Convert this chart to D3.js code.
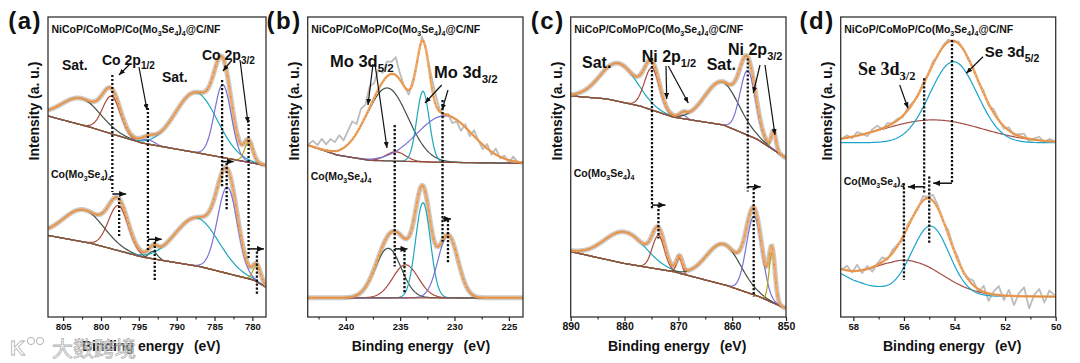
<!DOCTYPE html>
<html>
<head>
<meta charset="utf-8">
<script src="https://cdn.jsdelivr.net/npm/d3@7"></script>
<style>
  body { margin: 0; background: #fff; }
  svg text { font-family: "Liberation Sans", Arial, Helvetica, sans-serif; font-weight: bold; }
</style>
</head>
<body>
<svg id="chart" width="1080" height="363"></svg>
<script>
// ---------- values ----------
// binding energy range of each panel (eV, left -> right)
var aDomain = [807, 778.2];
var bDomain = [243.5, 223.7];
var cDomain = [890, 850];
var dDomain = [58.5, 50];

var aTicks = [805, 800, 795, 790, 785, 780];
var bTicks = [240, 235, 230, 225];
var cTicks = [890, 880, 870, 860, 850];
var dTicks = [58, 56, 54, 52, 50];
var aMinor = [802.5, 797.5, 792.5, 787.5, 782.5];
var bMinor = [242.5, 237.5, 232.5, 227.5];
var cMinor = [885, 875, 865, 855];
var dMinor = [57, 55, 53, 51];

// background [eV, intensity] and fitted peaks [centre eV, height, FWHM]
// intensity in a.u.: 0 = bottom of frame, 100 = top of frame
var aTopBg = [[807, 67], [801.5, 63.3], [794.6, 58], [787.2, 54.7], [778.2, 50.5]];
var aTopPeaks = [[802.6, 8.8, 6.0], [798.6, 12.5, 2.8], [793.8, 1.5, 2.0], [787.4, 20, 6.5], [783.9, 24.3, 2.6], [780.5, 6.5, 1.3]];
var aBotBg = [[807, 27.2], [801.4, 24.6], [794.4, 19.9], [786.9, 16.8], [779.8, 12.3], [778.2, 9.9]];
var aBotPeaks = [[802.3, 10.7, 6.3], [797.7, 15, 3.1], [793.1, 2.5, 1.3], [787.3, 16, 6.8], [783.3, 28.8, 3.1], [779.4, 5.2, 1.2]];

var bTopBg = [[243.5, 57.3], [240.8, 54], [237.8, 52.2], [231.6, 51.6], [223.7, 51.2]];
var bTopPeaks = [[236.2, 24.3, 4.5], [235.4, 3.1, 2.1], [232.9, 23.5, 1.35], [230.9, 15.5, 6.0]];
var bBotBg = [[243.5, 6.4], [223.7, 6.4]];
var bBotPeaks = [[236.1, 16.5, 2.8], [234.5, 11, 2.76], [232.9, 31.7, 1.6], [230.6, 20.9, 2.15]];

var cTopBg = [[890, 73.7], [883.3, 72.7], [877.1, 70.3], [870.9, 66.6], [861.6, 64], [855.4, 59.3], [850, 53]];
var cTopPeaks = [[881.1, 12.7, 8], [874.9, 14, 3.3], [869.1, 1.2, 1.5], [861.9, 14.3, 7.5], [857.1, 21.5, 3.4], [852.3, 6.1, 1.0]];
var cBotBg = [[890, 21.8], [880.2, 17.9], [870.9, 15.1], [861, 10.5], [855, 6.8], [851, 3.6], [850, 2.9]];
var cBotPeaks = [[879.9, 10.5, 9], [873.7, 11.2, 2.7], [869.8, 5.1, 1.25], [861.6, 13.5, 7.5], [855.9, 26.3, 3.4], [852.6, 16.5, 1.3]];

var dTopBg = [[58.5, 58.1], [50, 58.1]];
var dTopPeaks = [[54.85, 7.6, 4.6], [54.04, 27, 2.2]];
var dBotBg = [[58.5, 14.5], [58, 12.3], [57.4, 10.5], [56.5, 8.6], [55.5, 7.5], [54, 7], [50, 6.8]];
var dBotPeaks = [[55.8, 11, 3.2], [54.95, 23, 1.75]];

// raw data minus fit, where the noisy grey trace shows (one value per grid step)
var bTopResid = [0.5, 2, 1, 3.5, 2, 4, 3, 5, 2.5, 4.5,
  6, 3, 5.5, 4, 7, 5, 6.5, 3, 5, 4,
  6, 2, 0, -1.5, 1, -0.5, 1.5, 0, 2.5, 3.5,
  1, -1, 0.5, -2, -0.5, -2.5, 1, -1.5, 2, 0,
  -1.5, 1.5, -1, 2, -0.5, 1, -1, 1.5, 0, -0.5];
var dTopResid = [0, 0.8, -0.5, 1.2, 0.3, -1, 0.8, 1.5, -0.3, 1, 0.2,
  0.5, -0.5, 1, 0.3, -0.5, 0.8, 0.2, 1, -0.3, 0.5, 0.8, -0.5, 0.6, 0.2, -0.4, 0.6, -0.2,
  0.8, -0.6, 1.2, 0.2, -0.8, 1, -0.5, 0.6, 1.3, -0.9, 0.4, 1.2, -0.6, 0.8, 0.2];
var dBotResid = [0, 1.5, -0.5, 2, -1, 1, -1.5, 0.5, 1.5, -0.5, 1,
  0.5, -1, 1, 0, -0.5, 1.5, 0.5, 2, 1, -0.5, 1.5, 0.5, 1, -0.5, 0.5, 1.5, -1,
  2, -2.5, 1, 3, -1.5, 2, -3, 1, 3, -4, 0.5, 2.5, -2, 2, 0.5];

// peak positions marked with dotted lines (upper sample -> lower sample)
var aMarkTop = [798.5, 793.8, 784.0, 780.5];
var aMarkBot = [797.6, 792.9, 783.4, 779.4];
var bMarkTop = [235.5, 231.1];
var bMarkBot = [234.6, 230.6];
var cMarkTop = [874.9, 857.1];
var cMarkBot = [873.7, 856.0];
var dMarkTop = [54.1, 55.2];
var dMarkBot = [55.0, 56.0];

// ---------- drawing ----------
var svg = d3.select("#chart");
var y = d3.scaleLinear().domain([0, 100]).range([317, 17]);
var col = {dark: "#3e5141", red: "#aa473b", teal: "#1ea6bb", purple: "#7b70d4",
  olive: "#aaa41a", bg: "#8d4e3f", dteal: "#1aa3cc", dbrown: "#a54e47"};
var SANS = '"Liberation Sans", Arial, sans-serif';
var SERIF = '"Liberation Serif", "Times New Roman", serif';

var defs = svg.append("defs");
function marker(id, w, h) {
  defs.append("marker").attr("id", id).attr("markerUnits", "userSpaceOnUse")
    .attr("markerWidth", w).attr("markerHeight", h)
    .attr("refX", w).attr("refY", h / 2).attr("orient", "auto")
    .append("path").attr("d", "M0,0L" + w + "," + (h / 2) + "L0," + h + "Z").attr("fill", "#111");
}
marker("head", 7, 6);
marker("headS", 6, 5);

function gauss(v, p) {
  return p[1] * Math.exp(-4 * Math.LN2 * (v - p[0]) * (v - p[0]) / (p[2] * p[2]));
}

var panels = [
  {id: "(a)", left: 48, right: 266, domain: aDomain, ticks: aTicks, minor: aMinor, tickFs: 9.5,
   top: {bg: aTopBg, peaks: aTopPeaks, colors: ["dark", "red", "purple", "teal", "purple", "olive"], showBg: true},
   bot: {bg: aBotBg, peaks: aBotPeaks, colors: ["dark", "red", "dark", "teal", "purple", "olive"], showBg: true},
   markTop: aMarkTop, markBot: aMarkBot, tipOff: 7,
   shift: [[80.7, 41.7, 41, 39.7, 26.3], [69.7, 21.8, 25.9, 25.1, 11.8], [79, 43, 51.8, 51.3, 35.7], [65.7, 19.7, 22.7, 21.8, 7.3]],
   lowLabelY: 178, xlabX: 82,
   labels: [
     {t: "Sat.", x: 62, y: 70, fs: 14},
     {t: "Co 2p", sub: "1/2", x: 102, y: 65, fs: 14, sfs: 10},
     {t: "Sat.", x: 162, y: 81.5, fs: 14},
     {t: "Co 2p", sub: "3/2", x: 202, y: 60, fs: 14, sfs: 10}],
   arrows: [[130, 64, 119, 75], [139, 67, 147, 110], [232, 60, 223, 71], [240, 60, 248, 123]]},
  {id: "(b)", left: 307.7, right: 523, domain: bDomain, ticks: bTicks, minor: bMinor, tickFs: 9.5,
   top: {bg: bTopBg, peaks: bTopPeaks, colors: ["dark", "red", "teal", "purple"], showBg: true,
         resid: bTopResid, rawStart: 243.4, rawStep: 0.4},
   bot: {bg: bBotBg, peaks: bBotPeaks, colors: ["dark", "red", "teal", "purple"], showBg: true},
   markTop: bMarkTop, markBot: bMarkBot, tipOff: 3,
   shift: [[64, 16.8, 22.7, 22.3, 7.9], [72.3, 25.1, 32.7, 32.3, 17.9]],
   lowLabelY: 180, xlabX: 351.7,
   labels: [
     {t: "Mo 3d", sub: "5/2", x: 330, y: 67, fs: 16.5, sfs: 11.5},
     {t: "Mo 3d", sub: "3/2", x: 434, y: 78, fs: 16.5, sfs: 11.5}],
   arrows: [[373, 64, 368, 105], [375, 64, 387, 148], [441.7, 85, 425, 103], [448, 90, 442, 110]]},
  {id: "(c)", left: 570.7, right: 786, domain: cDomain, ticks: cTicks, minor: cMinor, tickFs: 10.5,
   top: {bg: cTopBg, peaks: cTopPeaks, colors: ["teal", "red", "purple", "dark", "purple", "olive"], showBg: true},
   bot: {bg: cBotBg, peaks: cBotPeaks, colors: ["teal", "red", "red", "dark", "purple", "olive"], showBg: true},
   markTop: cMarkTop, markBot: cMarkBot, tipOff: 7,
   shift: [[86.3, 36.2, 37.3, 37.3, 26.2], [86.2, 41.8, 43.4, 43, 6.8]],
   lowLabelY: 177, xlabX: 608,
   labels: [
     {t: "Sat.", x: 582, y: 68, fs: 16},
     {t: "Ni 2p", sub: "1/2", x: 641.7, y: 62, fs: 16, sfs: 11},
     {t: "Sat.", x: 706.7, y: 70, fs: 16},
     {t: "Ni 2p", sub: "3/2", x: 728, y: 55, fs: 16, sfs: 11}],
   arrows: [[666, 66, 666.7, 99], [668.3, 66, 688.3, 103], [760, 65, 753.3, 93], [765, 65, 775, 135]]},
  {id: "(d)", left: 840.7, right: 1055.7, domain: dDomain, ticks: dTicks, minor: dMinor, tickFs: 9.5,
   top: {bg: dTopBg, peaks: dTopPeaks, colors: ["dbrown", "dteal"], showBg: false,
         resid: dTopResid, rawStart: 58.45, rawStep: 0.2},
   bot: {bg: dBotBg, peaks: dBotPeaks, colors: ["dbrown", "dteal"], showBg: false,
         resid: dBotResid, rawStart: 58.45, rawStep: 0.2},
   markTop: dMarkTop, markBot: dMarkBot, tipOff: 4,
   shift: [[92.3, 44.6, 44.6, 46.8, 24.6], [79.6, 41.2, 43.4, 44.6, 12.3]],
   lowLabelY: 185, xlabX: 883,
   labels: [
     {t: "Se 3d", sub: "3/2", x: 858, y: 75, fs: 18, sfs: 12.5, serif: true},
     {t: "Se 3d", sub: "5/2", x: 984.7, y: 57, fs: 15, sfs: 10.5}],
   arrows: [[899.7, 85, 908, 108.3], [983, 56.7, 966.3, 73.3]]}
];

// text with subscripts, parts = [[string, isSub], ...]
function richText(g, parts, x, yb, fs, sfs, family) {
  var t = g.append("text").attr("x", x).attr("y", yb).attr("font-size", fs)
    .style("font-family", family || SANS).attr("fill", "#111");
  var shift = fs * 0.3, down = false;
  parts.forEach(function(p) {
    var s = t.append("tspan").text(p[0]);
    if (p[1] && !down) { s.attr("dy", shift).attr("font-size", sfs); down = true; }
    else if (p[1]) { s.attr("font-size", sfs); }
    else if (down) { s.attr("dy", -shift); down = false; }
  });
  return t;
}

function drawSpectrum(g, x, spec) {
  var bg = d3.scaleLinear().domain(spec.bg.map(function(d) { return d[0]; }))
    .range(spec.bg.map(function(d) { return d[1]; }));
  var dom = x.domain(), n = 260;
  var xs = d3.range(n + 1).map(function(i) { return dom[0] + (dom[1] - dom[0]) * i / n; });
  function fitAt(v) { return bg(v) + d3.sum(spec.peaks, function(p) { return gauss(v, p); }); }
  var line = d3.line().x(function(d) { return x(d[0]); }).y(function(d) { return y(d[1]); });
  var fit = xs.map(function(v) { return [v, fitAt(v)]; });

  // raw data (grey)
  if (spec.resid) {
    var raw = spec.resid.map(function(r, i) {
      var v = spec.rawStart - spec.rawStep * i;
      return [v, fitAt(v) + r];
    });
    g.append("path").attr("d", line(raw)).attr("fill", "none")
      .attr("stroke", "#bcbcbc").attr("stroke-width", 1.8).attr("stroke-linejoin", "round");
  } else {
    g.append("path").attr("d", line(fit)).attr("fill", "none")
      .attr("stroke", "#cbcbcb").attr("stroke-width", 5);
  }
  spec.peaks.forEach(function(p, i) {
    g.append("path").attr("d", line(xs.map(function(v) { return [v, bg(v) + gauss(v, p)]; })))
      .attr("fill", "none").attr("stroke", col[spec.colors[i]]).attr("stroke-width", 1.2);
  });
  // background drawn over the flat parts of the components
  if (spec.showBg) {
    g.append("path").attr("d", line(xs.map(function(v) { return [v, bg(v)]; })))
      .attr("fill", "none").attr("stroke", col.bg).attr("stroke-width", 1.3);
  }
  // fit envelope, orange line with dots
  g.append("path").attr("d", line(fit)).attr("fill", "none")
    .attr("stroke", "#f1a965").attr("stroke-width", 2.4);
  g.selectAll(null).data(fit.filter(function(d, i) { return i % 2 === 0; })).enter()
    .append("circle").attr("cx", function(d) { return x(d[0]); }).attr("cy", function(d) { return y(d[1]); })
    .attr("r", 0.8).attr("fill", "#dc8840");
}

panels.forEach(function(p, k) {
  var g = svg.append("g");
  var x = d3.scaleLinear().domain(p.domain).range([p.left, p.right]);
  var clipId = "clip" + k;
  defs.append("clipPath").attr("id", clipId).append("rect")
    .attr("x", p.left).attr("y", 17).attr("width", p.right - p.left).attr("height", 300);
  var plot = g.append("g").attr("clip-path", "url(#" + clipId + ")");
  drawSpectrum(plot, x, p.top);
  drawSpectrum(plot, x, p.bot);

  // frame
  g.append("rect").attr("x", p.left).attr("y", 17).attr("width", p.right - p.left).attr("height", 300)
    .attr("fill", "none").attr("stroke", "#333").attr("stroke-width", 1.3);

  // x axis
  var gx = g.append("g").attr("transform", "translate(0,317)")
    .call(d3.axisBottom(x).tickValues(p.ticks).tickSize(4).tickPadding(2).tickFormat(d3.format("d")));
  gx.select(".domain").remove();
  gx.selectAll("line").attr("stroke", "#222").attr("stroke-width", 1.2);
  gx.selectAll("text").attr("font-size", p.tickFs).attr("fill", "#111");
  var gm = g.append("g").attr("transform", "translate(0,317)")
    .call(d3.axisBottom(x).tickValues(p.minor).tickSize(2.5).tickFormat(""));
  gm.select(".domain").remove();
  gm.selectAll("line").attr("stroke", "#222").attr("stroke-width", 1.1);

  // axis titles
  var xl = g.append("text").attr("x", p.xlabX).attr("y", 351).attr("font-size", 14).attr("fill", "#111");
  xl.append("tspan").text("Binding energy");
  xl.append("tspan").attr("dx", 10).text("(eV)");
  g.append("text").attr("transform", "translate(" + (p.left - 9) + ",111) rotate(-90)")
    .attr("text-anchor", "middle").attr("font-size", 14).attr("fill", "#111").text("Intensity (a. u.)");
  g.append("text").attr("x", p.left - 6).attr("y", 29).attr("text-anchor", "end")
    .attr("font-size", 24).attr("letter-spacing", 1.5).attr("fill", "#111").text(p.id);

  // sample names
  richText(g, [["NiCoP/CoMoP/Co(Mo", 0], ["3", 1], ["Se", 0], ["4", 1], [")", 0], ["4", 1], ["@C/NF", 0]],
    p.left + 3.5, 33, 10.5, 7);
  richText(g, [["Co(Mo", 0], ["3", 1], ["Se", 0], ["4", 1], [")", 0], ["4", 1]],
    p.left + 3, p.lowLabelY, 10.5, 7);

  // dotted peak-position lines and shift arrows
  p.markTop.forEach(function(m, i) {
    var s = p.shift[i], xt = x(m), xb = x(p.markBot[i]);
    g.append("line").attr("x1", xt).attr("x2", xt).attr("y1", y(s[0])).attr("y2", y(s[1]))
      .attr("stroke", "#111").attr("stroke-width", 2.3).attr("stroke-dasharray", "2.2,1.8");
    g.append("line").attr("x1", xb).attr("x2", xb).attr("y1", y(s[3])).attr("y2", y(s[4]))
      .attr("stroke", "#111").attr("stroke-width", 2.3).attr("stroke-dasharray", "2.2,1.8");
    g.append("line").attr("x1", xt).attr("x2", xb + p.tipOff)
      .attr("y1", y(s[2])).attr("y2", y(s[2]))
      .attr("stroke", "#111").attr("stroke-width", 1.5).attr("marker-end", "url(#head)");
  });

  // peak labels and pointers
  p.labels.forEach(function(l) {
    var parts = [[l.t, 0]];
    if (l.sub) parts.push([l.sub, 1]);
    richText(g, parts, l.x, l.y, l.fs, l.sfs, l.serif ? SERIF : SANS);
  });
  p.arrows.forEach(function(a) {
    g.append("line").attr("x1", a[0]).attr("y1", a[1]).attr("x2", a[2]).attr("y2", a[3])
      .attr("stroke", "#111").attr("stroke-width", 1.2).attr("marker-end", "url(#headS)");
  });
});

// watermark (semi-transparent, lower left)
var wm = svg.append("g").style("opacity", 0.8);
wm.append("text").attr("x", 10).attr("y", 355).attr("font-size", 21)
  .style("fill", "#fff").style("stroke", "#a0a0a0").style("stroke-width", 0.8).text("K");
wm.append("circle").attr("cx", 31).attr("cy", 341).attr("r", 3.6).attr("fill", "#fff").attr("stroke", "#a0a0a0");
wm.append("circle").attr("cx", 40).attr("cy", 341).attr("r", 3.6).attr("fill", "#fff").attr("stroke", "#a0a0a0");
wm.append("text").attr("x", 52).attr("y", 356).attr("font-size", 21)
  .style("font-family", '"Noto Sans CJK SC", sans-serif').style("font-weight", "normal")
  .style("fill", "#fff").style("stroke", "#a0a0a0").style("stroke-width", 0.8).text("大数跨境");
</script>
</body>
</html>
